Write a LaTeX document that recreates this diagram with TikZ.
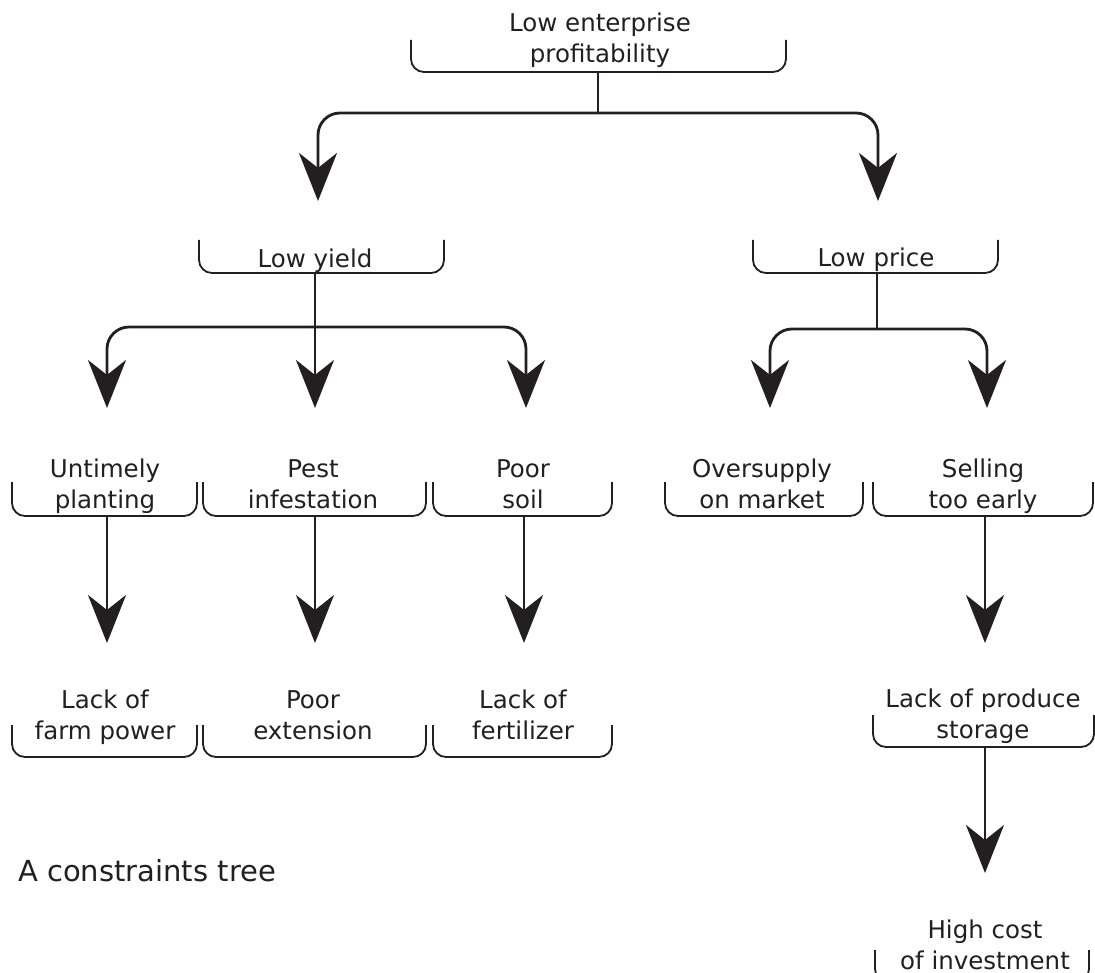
\documentclass[tikz,border=0pt]{standalone}
\usepackage{fontspec}
\setmainfont{DejaVu Sans}
\usetikzlibrary{arrows.meta}
\definecolor{ink}{RGB}{35,31,32}
\tikzset{
  lbl/.style={anchor=base, align=center, inner sep=0pt, text=ink,
    font=\fontsize{24.5}{31}\selectfont},
  brk/.style={draw=ink, line width=1.8pt, rounded corners=13pt},
  conn/.style={draw=ink, line width=2.8pt},
  arr/.style={conn, -{Stealth[length=48pt,width=38pt,inset=15pt]}},
  bendarr/.style={arr, rounded corners=22pt}
}
\begin{document}
\begin{tikzpicture}[x=1pt,y=-1pt]
\clip (0,0) rectangle (1095,973);
\fill[white] (0,0) rectangle (1095,973);

% level 1 (anchor base = baseline of last line)
\node[lbl] (top) at (600,63) {Low enterprise\\profitability};
\draw[brk] (411,40) -- (411,72) -- (786,72) -- (786,40);
\coordinate (top-s) at (598,72);
\coordinate (top-j) at (598,113);

% level 2
\node[lbl] (yield) at (315,268) {Low yield};
\draw[brk] (199,240) -- (199,273) -- (444,273) -- (444,240);
\coordinate (yield-t) at (318,201);
\coordinate (yield-s) at (315,273);
\coordinate (yield-j) at (315,327);

\node[lbl] (price) at (876,267) {Low price};
\draw[brk] (753,240) -- (753,273) -- (998,273) -- (998,240);
\coordinate (price-t) at (878,201);
\coordinate (price-s) at (877,273);
\coordinate (price-j) at (877,329);

% level 3
\node[lbl] (unt) at (105,508) {Untimely\\planting};
\draw[brk] (12,482) -- (12,516) -- (197,516) -- (197,482);
\node[lbl] (pest) at (313,508) {Pest\\infestation};
\draw[brk] (203,482) -- (203,516) -- (426,516) -- (426,482);
\node[lbl] (soil) at (523,508) {Poor\\soil};
\draw[brk] (433,482) -- (433,516) -- (612,516) -- (612,482);
\node[lbl] (over) at (762,508) {Oversupply\\on market};
\draw[brk] (665,482) -- (665,516) -- (863,516) -- (863,482);
\node[lbl] (sell) at (983,508) {Selling\\too early};
\draw[brk] (873,482) -- (873,516) -- (1093,516) -- (1093,482);

\coordinate (unt-t) at (107,408);  \coordinate (unt-s) at (107,516);
\coordinate (pest-t) at (315,408); \coordinate (pest-s) at (315,516);
\coordinate (soil-t) at (526,408); \coordinate (soil-s) at (524,516);
\coordinate (over-t) at (770,408);
\coordinate (sell-t) at (987,408); \coordinate (sell-s) at (985,516);

% level 4
\node[lbl] (farm) at (105,739) {Lack of\\farm power};
\draw[brk] (12,725) -- (12,757) -- (197,757) -- (197,725);
\node[lbl] (ext) at (313,739) {Poor\\extension};
\draw[brk] (203,725) -- (203,757) -- (426,757) -- (426,725);
\node[lbl] (fert) at (523,739) {Lack of\\fertilizer};
\draw[brk] (433,725) -- (433,757) -- (612,757) -- (612,725);
\node[lbl] (stor) at (983,738) {Lack of produce\\storage};
\draw[brk] (873,715) -- (873,747) -- (1094,747) -- (1094,715);
\coordinate (farm-t) at (107,643);
\coordinate (ext-t) at (315,643);
\coordinate (fert-t) at (524,643);
\coordinate (stor-t) at (985,643);
\coordinate (stor-s) at (985,747);

% level 5
\node[lbl] (cost) at (985,969) {High cost\\of investment};
\draw[brk] (875,950) -- (875,982) -- (1089,982) -- (1089,950);
\coordinate (cost-t) at (985,873);

\node[anchor=base west, inner sep=0pt, text=ink,
  font=\fontsize{29}{35}\selectfont] (cap) at (18,881) {A constraints tree};

% connectors
\draw[conn] (top-s) -- (top-j);
\draw[bendarr] (top-j) -| (yield-t);
\draw[bendarr] (top-j) -| (price-t);

\draw[arr] (yield-s) -- (pest-t);
\draw[bendarr] (yield-j) -| (unt-t);
\draw[bendarr] (yield-j) -| (soil-t);

\draw[conn] (price-s) -- (price-j);
\draw[bendarr] (price-j) -| (over-t);
\draw[bendarr] (price-j) -| (sell-t);

\draw[arr] (unt-s) -- (farm-t);
\draw[arr] (pest-s) -- (ext-t);
\draw[arr] (soil-s) -- (fert-t);
\draw[arr] (sell-s) -- (stor-t);
\draw[arr] (stor-s) -- (cost-t);
\end{tikzpicture}
\end{document}
